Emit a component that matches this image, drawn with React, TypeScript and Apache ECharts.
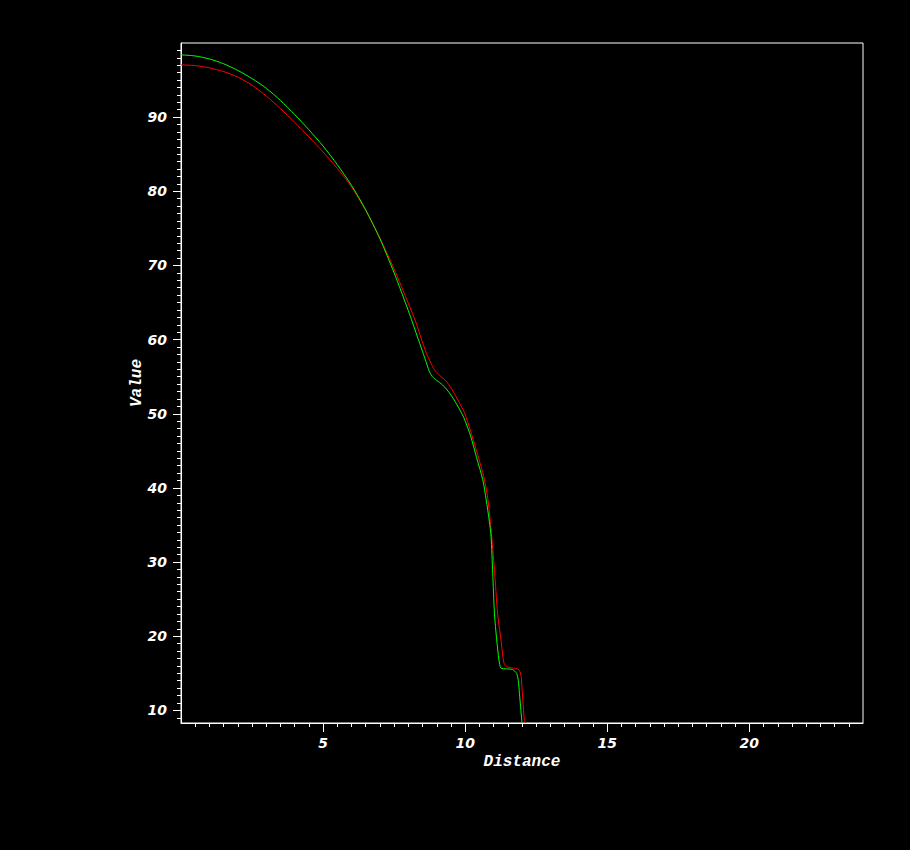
import React, { useEffect, useRef } from "react";
import * as echarts from "echarts";

// Green curve (Distance, Value)
const greenDistance = [0, 0.5, 1.0, 1.5, 2.0, 2.5, 3.0, 3.5, 4.0, 4.5, 5.0, 5.5, 6.0, 6.5, 7.0, 7.5, 8.0, 8.3, 8.5, 8.65, 8.75, 8.85, 9.0, 9.2, 9.45, 9.7, 9.95, 10.2, 10.4, 10.62, 10.74, 10.85, 10.91, 10.97, 11.03, 11.11, 11.19, 11.26, 11.45, 11.67, 11.81, 11.87, 11.91, 11.99, 12.0];
const greenValue = [98.4, 98.25, 97.85, 97.2, 96.3, 95.2, 93.9, 92.25, 90.35, 88.3, 86.1, 83.6, 80.8, 77.5, 73.6, 69.0, 63.9, 60.6, 58.4, 56.7, 55.6, 55.0, 54.5, 53.9, 52.8, 51.3, 49.5, 46.9, 44.1, 41.1, 38.4, 35.5, 33.5, 28.5, 23.1, 19.5, 16.8, 15.7, 15.6, 15.5, 15.0, 14.0, 12.3, 8.7, 8.3];

// Red curve (Distance, Value)
const redDistance = [0, 0.5, 1.0, 1.5, 2.0, 2.5, 3.0, 3.5, 4.0, 4.5, 5.0, 5.5, 6.0, 6.5, 7.0, 7.5, 8.0, 8.28, 8.45, 8.63, 8.8, 8.92, 9.1, 9.33, 9.5, 9.68, 9.85, 9.98, 10.18, 10.4, 10.55, 10.68, 10.8, 10.91, 11.03, 11.14, 11.26, 11.33, 11.38, 11.45, 11.55, 11.7, 11.85, 11.93, 11.97, 12.0, 12.03, 12.08, 12.12];
const redValue = [97.05, 96.95, 96.65, 96.15, 95.4, 94.3, 92.85, 91.15, 89.3, 87.35, 85.3, 83.1, 80.6, 77.4, 73.7, 69.5, 64.9, 62.2, 60.2, 58.2, 56.8, 55.9, 55.2, 54.4, 53.5, 52.3, 51.1, 50.1, 47.8, 45.0, 43.0, 41.1, 38.5, 34.4, 29.0, 23.1, 19.5, 17.2, 16.2, 15.9, 15.8, 15.7, 15.6, 15.2, 14.6, 13.0, 11.4, 8.7, 8.3];

// Axes
const xMin = 0;
const xMax = 24;
const yMin = 8.3;
const yMax = 100;
const xMajorTicks = [5, 10, 15, 20];
const yMajorTicks = [10, 20, 30, 40, 50, 60, 70, 80, 90];

const xMinorTicks: number[] = [];
for (let i = 1; i < xMax * 2; i++) {
  const v = i / 2;
  if (v % 5 !== 0) xMinorTicks.push(v);
}
const yMinorTicks: number[] = [];
for (let v = 9; v < yMax; v++) {
  if (v % 10 !== 0) yMinorTicks.push(v);
}

const zip = (xs: number[], ys: number[]) => xs.map((x, i) => [x, ys[i]]);

export default function App() {
  const ref = useRef<HTMLDivElement>(null);
  useEffect(() => {
    if (!ref.current) return;
    const chart = echarts.init(ref.current, undefined, { renderer: "svg" });
    const labelFont = {
      color: "#ffffff",
      fontFamily: "DejaVu Sans",
      fontStyle: "italic" as const,
      fontWeight: "bold" as const,
      fontSize: 14,
    };
    const nameFont = {
      color: "#ffffff",
      fontFamily: "Liberation Mono",
      fontStyle: "italic" as const,
      fontWeight: "bold" as const,
      fontSize: 16,
    };
    chart.setOption({
      animation: false,
      backgroundColor: "#000000",
      grid: {
        left: 181,
        top: 43,
        right: 47,
        bottom: 127,
        show: true,
        borderColor: "#ffffff",
        borderWidth: 1,
        backgroundColor: "transparent",
      },
      xAxis: [
        {
          type: "value",
          min: xMin,
          max: xMax,
          interval: 5,
          position: "bottom",
          name: "Distance",
          nameLocation: "middle",
          nameGap: 31,
          nameMoveOverlap: false,
          nameTextStyle: nameFont,
          axisLine: { show: true, onZero: false, lineStyle: { color: "#ffffff", width: 1 } },
          axisTick: { show: true, inside: false, length: 9, customValues: xMajorTicks, lineStyle: { color: "#ffffff" } },
          axisLabel: { show: true, margin: 13, customValues: xMajorTicks, ...labelFont },
          splitLine: { show: false },
        },
        {
          type: "value",
          min: xMin,
          max: xMax,
          position: "bottom",
          axisLine: { show: false, onZero: false },
          axisTick: { show: true, inside: false, length: 4, customValues: xMinorTicks, lineStyle: { color: "#ffffff" } },
          axisLabel: { show: false },
          splitLine: { show: false },
        },
      ],
      yAxis: [
        {
          type: "value",
          min: yMin,
          max: yMax,
          position: "left",
          name: "Value",
          nameLocation: "middle",
          nameGap: 36,
          nameMoveOverlap: false,
          nameTextStyle: nameFont,
          axisLine: { show: true, onZero: false, lineStyle: { color: "#ffffff", width: 1 } },
          axisTick: { show: true, inside: false, length: 8, customValues: yMajorTicks, lineStyle: { color: "#ffffff" } },
          axisLabel: { show: true, margin: 14, customValues: yMajorTicks, ...labelFont },
          splitLine: { show: false },
        },
        {
          type: "value",
          min: yMin,
          max: yMax,
          position: "left",
          axisLine: { show: false, onZero: false },
          axisTick: { show: true, inside: false, length: 4, customValues: yMinorTicks, lineStyle: { color: "#ffffff" } },
          axisLabel: { show: false },
          splitLine: { show: false },
        },
      ],
      series: [
        {
          type: "line",
          name: "red",
          xAxisIndex: 0,
          yAxisIndex: 0,
          data: zip(redDistance, redValue),
          symbol: "none",
          smooth: 0.25,
          lineStyle: { color: "#ff0000", width: 1 },
          clip: true,
        },
        {
          type: "line",
          name: "green",
          xAxisIndex: 0,
          yAxisIndex: 0,
          data: zip(greenDistance, greenValue),
          symbol: "none",
          smooth: 0.25,
          lineStyle: { color: "#00ff00", width: 1 },
          clip: true,
        },
      ],
    });
    return () => chart.dispose();
  }, []);
  return (
    <div
      ref={ref}
      style={{ position: "fixed", left: 0, top: 0, width: 910, height: 850, background: "#000" }}
    />
  );
}
